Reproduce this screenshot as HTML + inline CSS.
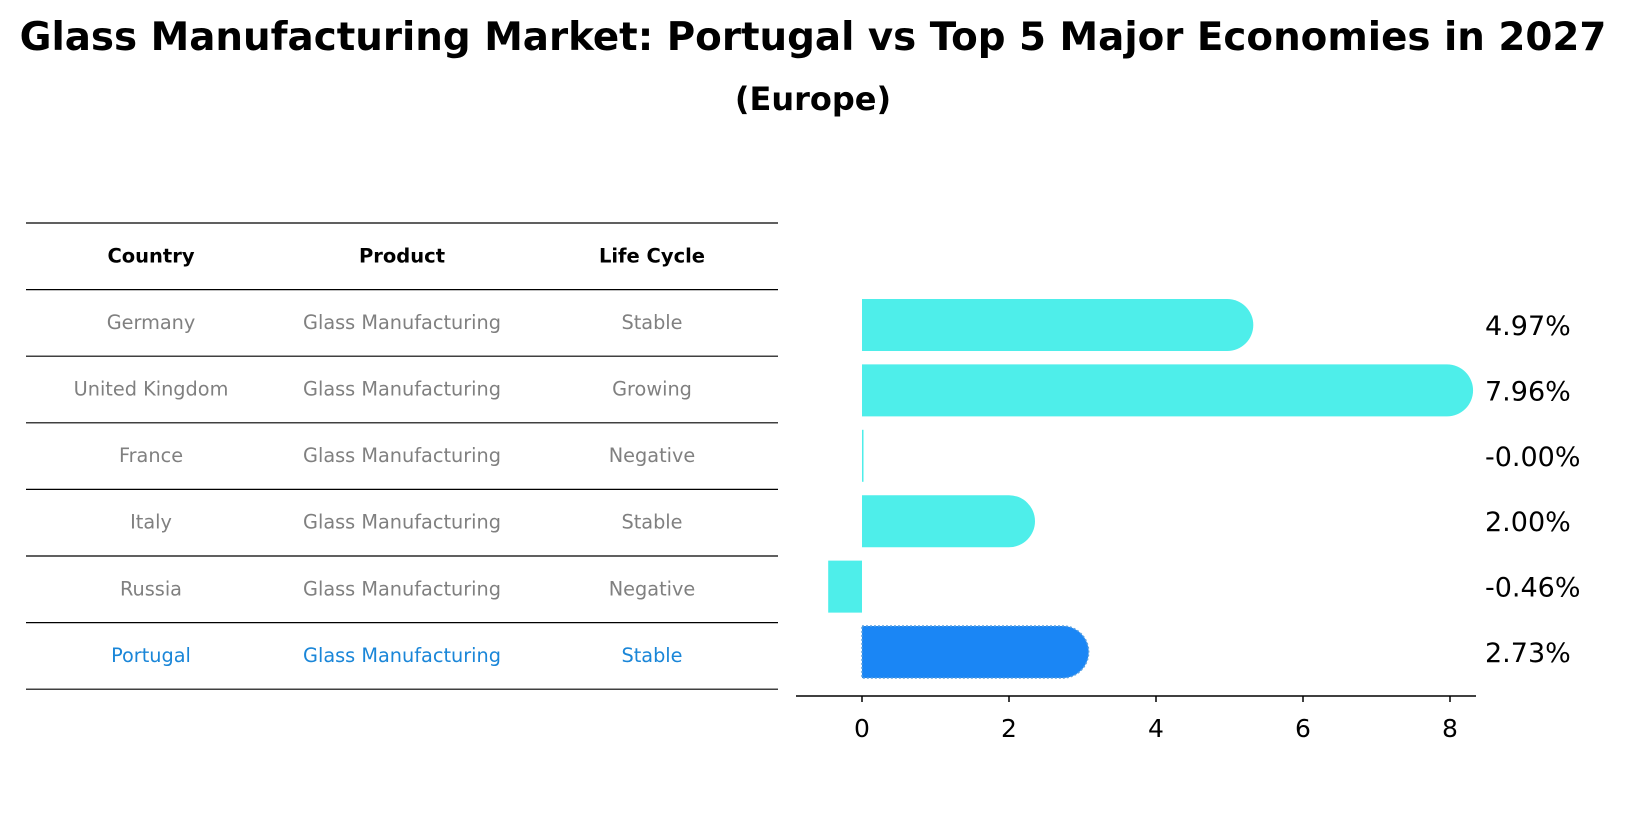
<!DOCTYPE html>
<html><head><meta charset="utf-8">
<style>
body{margin:0;background:#fff;width:1627px;height:823px;overflow:hidden;font-family:"Liberation Sans","DejaVu Sans",sans-serif;}
</style></head>
<body>
<svg id="chart" width="1627" height="823" xmlns="http://www.w3.org/2000/svg">
<text x="813" y="50" text-anchor="middle" font-size="38.8" font-weight="bold" font-family="DejaVu Sans, sans-serif">Glass Manufacturing Market: Portugal vs Top 5 Major Economies in 2027</text>
<text x="813" y="110" text-anchor="middle" font-size="32" font-weight="bold" font-family="DejaVu Sans, sans-serif">(Europe)</text>
<g id="table"></g>
<g id="bars"></g>
</svg>
<script>
const countries=["Germany","United Kingdom","France","Italy","Russia","Portugal"];
const products=["Glass Manufacturing","Glass Manufacturing","Glass Manufacturing","Glass Manufacturing","Glass Manufacturing","Glass Manufacturing"];
const lifeCycles=["Stable","Growing","Negative","Stable","Negative","Stable"];
const values=[4.97,7.96,-0.00,2.00,-0.46,2.73];
const labels=["4.97%","7.96%","-0.00%","2.00%","-0.46%","2.73%"];
const ticks=[0,2,4,6,8];
const NS="http://www.w3.org/2000/svg";
function mk(t,a,p){const e=document.createElementNS(NS,t);for(const k in a)e.setAttribute(k,a[k]);p.appendChild(e);return e;}
const tb=document.getElementById('table');
const colX=[151,402,652];
const rowTop=223, rowH=66.6;
for(let i=0;i<=countries.length+1;i++){
  const l=mk('line',{x1:26,x2:778,y1:rowTop+i*rowH,y2:rowTop+i*rowH,stroke:'#000','stroke-width':1.2},tb);
  
  
}
["Country","Product","Life Cycle"].forEach((h,j)=>{
  const t=mk('text',{x:colX[j],y:rowTop+rowH/2+6,'text-anchor':'middle','font-size':19.5,'font-weight':'bold','font-family':'DejaVu Sans, sans-serif'},tb);
  t.textContent=h;
  
  
});
countries.forEach((c,i)=>{
  const col=i===countries.length-1?'#1a86d8':'#808080';
  [c,products[i],lifeCycles[i]].forEach((v,j)=>{
    const t=mk('text',{x:colX[j],y:rowTop+(i+1.5)*rowH+6,'text-anchor':'middle','font-size':19.3,fill:col,'font-family':'DejaVu Sans, sans-serif'},tb);
    t.textContent=v;
    
    
  });
});
const g=document.getElementById('bars');
const x0=862, ppu=(1450-862)/8;
const xs=v=>x0+v*ppu;
const barTop0=299, step=65.4, bh=52;
const ax=mk('line',{x1:796,x2:1476,y1:696,y2:696,stroke:'#000','stroke-width':1.5},g);


ticks.forEach(t=>{
  const l=mk('line',{x1:xs(t),x2:xs(t),y1:696,y2:702,stroke:'#000','stroke-width':1.5},g);
  
  
  const tx=mk('text',{x:xs(t),y:737,'text-anchor':'middle','font-size':25,'font-family':'DejaVu Sans, sans-serif'},g);
  tx.textContent=t;
  
  
});
values.forEach((v,i)=>{
  const y=barTop0+i*step;
  const isP=i===values.length-1;
  const fill=isP?'#1a86f5':'#4eeeea';
  const a=Math.min(xs(0),xs(v)), w=Math.abs(xs(v)-xs(0));
  let d;
  if(v>0){
    const r=bh/2;
    d=`M${a},${y} H${a+w} A${r},${r} 0 0 1 ${a+w},${y+bh} H${a} Z`;
  } else {
    d=`M${a},${y} H${a+Math.max(w,1.5)} V${y+bh} H${a} Z`;
  }
  const p=mk('path',{d:d,fill:fill},g);
  if(isP){p.setAttribute('stroke','#5aa0e0');p.setAttribute('stroke-dasharray','2,2');p.setAttribute('stroke-width','1.5');}
  
  
  const t=mk('text',{x:1485,y:y+bh/2+10,'font-size':27,'font-family':'DejaVu Sans, sans-serif'},g);
  t.textContent=labels[i];
  
  
});
</script>
</body></html>
